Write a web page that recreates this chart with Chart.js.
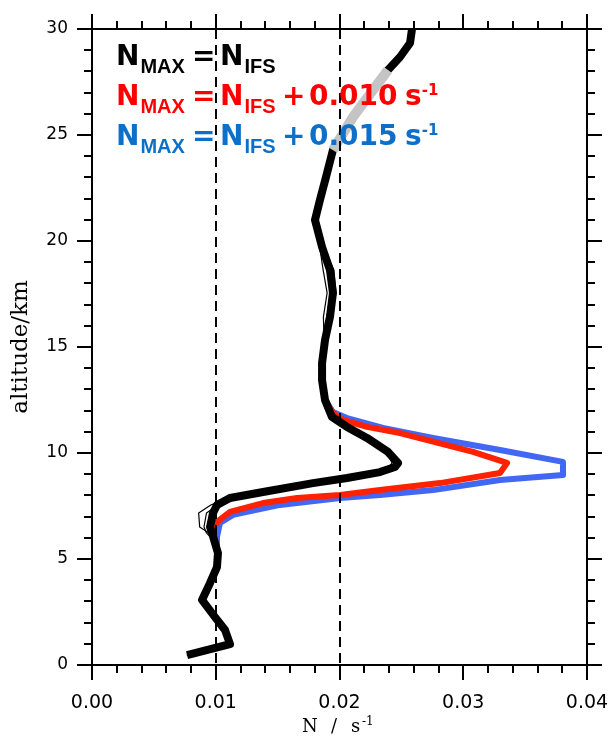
<!DOCTYPE html>
<html>
<head>
<meta charset="utf-8">
<script src="https://cdn.jsdelivr.net/npm/chart.js@4/dist/chart.umd.min.js"></script>
<style>
  html, body { margin: 0; padding: 0; background: #fff; }
  #wrap { width: 609px; height: 738px; }
</style>
</head>
<body>
<div id="wrap"><canvas id="chart" width="609" height="738"></canvas></div>
<script>
// Altitude levels (km) of the ensemble profiles
const levels = [0.47, 0.99, 1.65, 2.26, 3.07, 3.87, 4.62, 5.28, 5.75, 6.23, 6.51, 7.17, 7.55, 7.88, 8.16, 8.58, 8.82, 9.10, 9.34, 9.53, 10.05, 10.71, 11.23, 11.70, 12.50, 13.44, 14.25, 15.33, 16.42, 17.55, 18.63, 19.72, 20.99, 21.93, 23.02, 24.29, 25.85, 27.12, 28.07, 28.68, 29.34, 30.0];

// Buoyancy frequency (s^-1), N_MAX = N_IFS
const nControl = [0.00768, 0.01115, 0.01075, 0.00994, 0.00889, 0.00954, 0.01010, 0.01018, 0.00994, 0.00970, 0.00954, 0.00978, 0.01010, 0.01115, 0.01382, 0.01786, 0.02061, 0.02327, 0.02448, 0.02473, 0.02392, 0.02222, 0.02061, 0.01939, 0.01883, 0.01859, 0.01859, 0.01883, 0.01923, 0.01947, 0.01923, 0.01859, 0.01802, 0.01842, 0.01891, 0.01947, 0.02109, 0.02271, 0.02392, 0.02489, 0.02570, 0.02586];
const nMemberA = [0.00770, 0.01110, 0.01070, 0.00990, 0.00880, 0.00950, 0.01005, 0.01012, 0.00985, 0.00945, 0.00870, 0.00862, 0.00960, 0.01100, 0.01370, 0.01780, 0.02060, 0.02340, 0.02470, 0.02500, 0.02400, 0.02225, 0.02065, 0.01945, 0.01880, 0.01855, 0.01850, 0.01875, 0.01870, 0.01900, 0.01868, 0.01840, 0.01798, 0.01838, 0.01888, 0.01945, 0.02105, 0.02268, 0.02390, 0.02487, 0.02568, 0.02585];
const nMemberB = [0.00765, 0.01120, 0.01080, 0.01000, 0.00895, 0.00960, 0.01015, 0.01022, 0.01000, 0.00925, 0.00905, 0.00925, 0.01020, 0.01130, 0.01400, 0.01820, 0.02075, 0.02320, 0.02400, 0.02425, 0.02380, 0.02215, 0.02055, 0.01935, 0.01887, 0.01865, 0.01866, 0.01890, 0.01935, 0.01972, 0.01955, 0.01868, 0.01806, 0.01846, 0.01895, 0.01950, 0.02112, 0.02275, 0.02395, 0.02492, 0.02572, 0.02588];
const nMemberC = [0.00768, 0.01115, 0.01072, 0.00990, 0.00886, 0.00952, 0.01008, 0.01015, 0.00990, 0.00950, 0.00930, 0.00950, 0.01005, 0.01110, 0.01380, 0.01790, 0.02068, 0.02335, 0.02460, 0.02485, 0.02395, 0.02220, 0.02058, 0.01937, 0.01881, 0.01857, 0.01857, 0.01880, 0.01895, 0.01925, 0.01900, 0.01850, 0.01800, 0.01840, 0.01890, 0.01946, 0.02108, 0.02270, 0.02391, 0.02488, 0.02569, 0.02586];

// Stretch of the control profile shown in grey
const greyLevels = [24.29, 25.85, 27.12, 28.07];
const nGrey = [0.01947, 0.02109, 0.02271, 0.02392];

// N_MAX = N_IFS + 0.010 s^-1
const redLevels = [5.28, 5.75, 6.37, 6.75, 7.22, 7.64, 7.88, 8.02, 8.25, 8.58, 9.06, 9.53, 10.05, 10.94, 11.23, 11.56, 11.89, 12.50];
const nRed = [0.01018, 0.00994, 0.00978, 0.01010, 0.01115, 0.01382, 0.01657, 0.02004, 0.02327, 0.02812, 0.03297, 0.03354, 0.03079, 0.02489, 0.02222, 0.02028, 0.01947, 0.01883];

// N_MAX = N_IFS + 0.015 s^-1
const blueLevels = [5.28, 5.42, 6.04, 6.70, 7.08, 7.55, 7.88, 8.02, 8.25, 8.73, 8.96, 9.58, 10.14, 10.71, 11.18, 11.65, 11.93, 12.50];
const nBlue = [0.01018, 0.01010, 0.01010, 0.01034, 0.01139, 0.01519, 0.02004, 0.02327, 0.02756, 0.03297, 0.03806, 0.03806, 0.03297, 0.02756, 0.02352, 0.02061, 0.01947, 0.01883];

// Axes
const xTickLabels = ['0.00', '0.01', '0.02', '0.03', '0.04'];
const yTickLabels = ['0', '5', '10', '15', '20', '25', '30'];
const refLines = [0.01, 0.02];

const pts = (ns, zs) => ns.map((n, i) => ({ x: n, y: zs[i] }));
const isMajorX = v => Math.abs(v / 0.01 - Math.round(v / 0.01)) < 1e-6;
const isMajorY = v => Math.abs(v / 5 - Math.round(v / 5)) < 1e-6;

function line(ctx, x1, y1, x2, y2) {
  ctx.beginPath(); ctx.moveTo(x1, y1); ctx.lineTo(x2, y2); ctx.stroke();
}

// Frame, outward tick marks, dashed reference lines, axis titles and the key
const decorations = {
  id: 'decorations',
  afterDatasetsDraw(chart) {
    const { ctx, chartArea: a, scales: { x, y } } = chart;
    ctx.save();
    ctx.strokeStyle = '#000';
    ctx.lineWidth = 2;

    ctx.setLineDash([10, 6]);
    refLines.forEach(v => {
      const px = Math.round(x.getPixelForValue(v));
      line(ctx, px, a.top, px, a.bottom);
    });
    ctx.setLineDash([]);

    ctx.strokeRect(a.left, a.top, a.right - a.left, a.bottom - a.top);

    x.ticks.forEach(t => {
      const px = Math.round(x.getPixelForValue(t.value));
      const len = isMajorX(t.value) ? 15 : 8;
      line(ctx, px, a.bottom, px, a.bottom + len);
      line(ctx, px, a.top, px, a.top - len);
    });
    y.ticks.forEach(t => {
      const py = Math.round(y.getPixelForValue(t.value));
      const len = isMajorY(t.value) ? 15 : 8;
      line(ctx, a.left, py, a.left - len, py);
      line(ctx, a.right, py, a.right + len, py);
    });

    // axis titles
    ctx.fillStyle = '#000';
    ctx.textBaseline = 'alphabetic';
    ctx.save();
    ctx.translate(27, (a.top + a.bottom) / 2);
    ctx.rotate(-Math.PI / 2);
    ctx.textAlign = 'center';
    ctx.font = '23px "DejaVu Serif"';
    ctx.fillText('altitude/km', 0, 0);
    ctx.restore();

    ctx.textAlign = 'left';
    ctx.font = '18px "DejaVu Serif"';
    ctx.fillText('N', 302, 732);
    ctx.fillText('/', 331, 732);
    ctx.fillText('s', 351, 732);
    ctx.font = '12px "DejaVu Serif"';
    ctx.fillText('-1', 362, 725);

    // key
    const rows = [
      { color: '#000000', base: 65, extra: null },
      { color: '#ff0000', base: 105, extra: '0.010' },
      { color: '#0c6fca', base: 145, extra: '0.015' }
    ];
    rows.forEach(r => {
      ctx.fillStyle = r.color;
      ctx.font = 'bold 28px "DejaVu Sans"';
      ctx.fillText('N', 116, r.base);
      const w1 = ctx.measureText('N').width;
      ctx.fillText('=', 192, r.base);
      ctx.fillText('N', 220, r.base);
      ctx.font = 'bold 20px "Liberation Sans"';
      ctx.fillText('MAX', 116 + w1 + 1, r.base + 8);
      ctx.fillText('IFS', 220 + w1 + 1, r.base + 8);
      if (r.extra) {
        ctx.font = 'bold 28px "DejaVu Sans"';
        ctx.fillText('+', 282, r.base);
        ctx.fillText(r.extra, 309, r.base);
        ctx.fillText('s', 405, r.base);
        const ws = ctx.measureText('s').width;
        ctx.font = 'bold 15px "DejaVu Sans"';
        ctx.fillText('-1', 405 + ws, r.base - 10);
      }
    });
    ctx.restore();
  }
};

const common = { showLine: true, pointRadius: 0, pointHoverRadius: 0, tension: 0, borderJoinStyle: 'round', borderCapStyle: 'butt', fill: false };

new Chart(document.getElementById('chart'), {
  type: 'scatter',
  data: {
    datasets: [
      { ...common, data: pts(nBlue, blueLevels), borderColor: '#4267f2', borderWidth: 6, order: 6 },
      { ...common, data: pts(nRed, redLevels), borderColor: '#ff2200', borderWidth: 6, order: 5 },
      { ...common, data: pts(nControl, levels), borderColor: '#000', borderWidth: 8, order: 4 },
      { ...common, data: pts(nMemberA, levels), borderColor: '#000', borderWidth: 1.2, order: 3 },
      { ...common, data: pts(nMemberB, levels), borderColor: '#000', borderWidth: 1.2, order: 3 },
      { ...common, data: pts(nMemberC, levels), borderColor: '#000', borderWidth: 1, borderDash: [2, 2], order: 2 },
      { ...common, data: pts(nGrey, greyLevels), borderColor: '#c4c4c4', borderWidth: 10, order: 1 }
    ]
  },
  options: {
    responsive: false,
    animation: false,
    devicePixelRatio: 1,
    layout: { padding: { top: 29, right: 22, left: 0, bottom: 0 } },
    plugins: { legend: { display: false }, tooltip: { enabled: false } },
    scales: {
      x: {
        type: 'linear', min: 0, max: 0.04,
        afterFit: s => { s.height = 73; s.paddingLeft = 0; s.paddingRight = 0; },
        grid: { display: false, drawTicks: false },
        border: { display: false },
        ticks: {
          stepSize: 0.002, autoSkip: false, maxRotation: 0, padding: 27,
          color: '#000', font: { family: 'DejaVu Sans', size: 19 },
          callback: v => isMajorX(v) ? xTickLabels[Math.round(v / 0.01)] : ''
        }
      },
      y: {
        type: 'linear', min: 0, max: 30,
        afterFit: s => { s.width = 92; s.paddingTop = 0; s.paddingBottom = 0; },
        grid: { display: false, drawTicks: false },
        border: { display: false },
        ticks: {
          stepSize: 1, autoSkip: false, padding: 24,
          color: '#000', font: { family: 'DejaVu Sans', size: 17 },
          callback: v => isMajorY(v) ? yTickLabels[Math.round(v / 5)] : ''
        }
      }
    }
  },
  plugins: [decorations]
});
</script>
</body>
</html>
